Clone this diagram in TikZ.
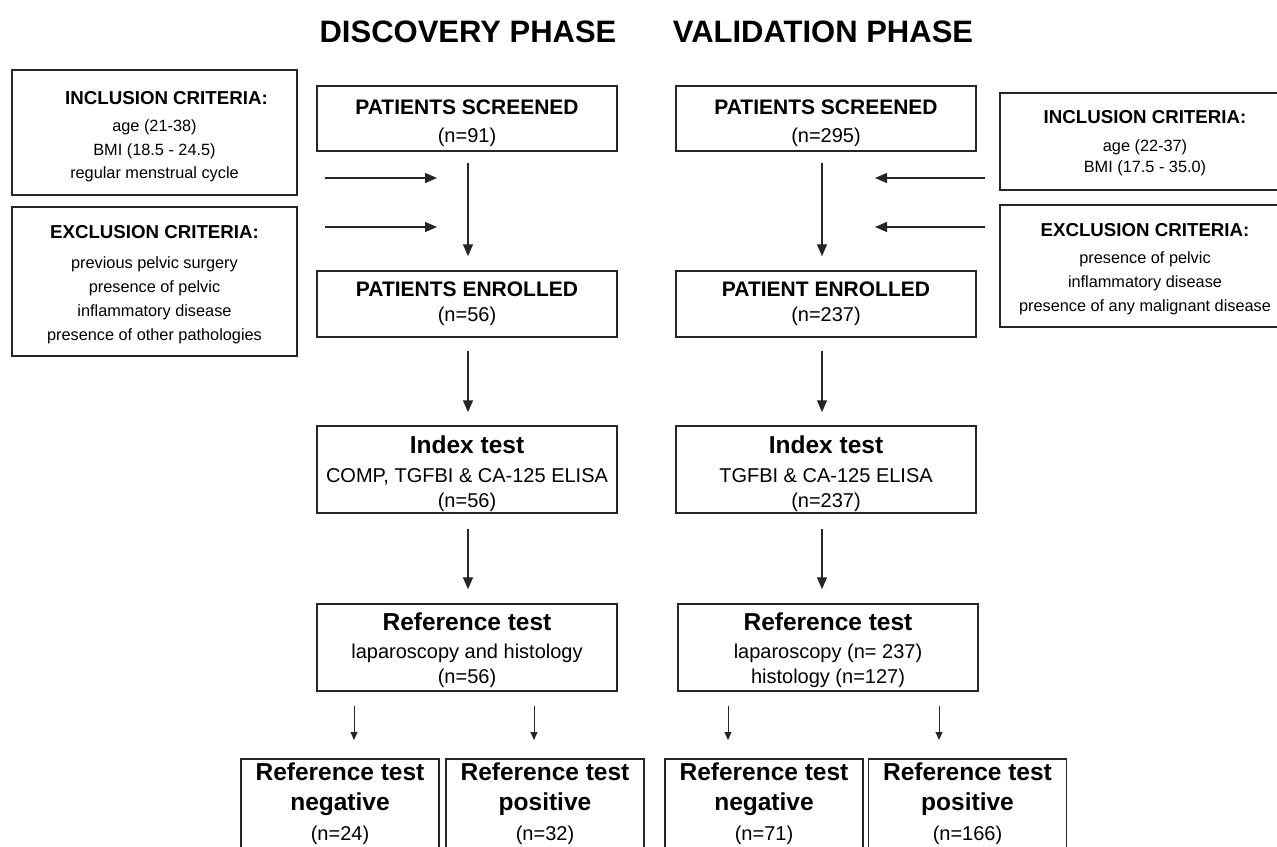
\documentclass[tikz,border=0pt]{standalone}
\usepackage{fontspec}
\setmainfont{Liberation Sans}
\usetikzlibrary{arrows.meta}
\newcommand\ttlfont{\bfseries\fontsize{31}{36}\selectfont}
\newcommand\crfont{\bfseries\fontsize{18.7}{22}\selectfont}
\newcommand\scrfont{\bfseries\fontsize{21}{25}\selectfont}
\newcommand\hdfont{\bfseries\fontsize{24.5}{28}\selectfont}
\newcommand\liftby[1]{\rule{0pt}{#1}}
\tikzset{
  box/.style={draw=black!85, line width=1.5pt, align=center, inner sep=0pt, text=black},
  mbox/.style={box, minimum width=300pt, font=\fontsize{20}{25}\selectfont},
  sbox/.style={box, minimum width=285pt, font=\fontsize{16.3}{23.5}\selectfont},
  rbox/.style={box, minimum width=290pt, font=\fontsize{16.3}{23.5}\selectfont},
  bbox/.style={box, minimum width=198pt, minimum height=90pt, anchor=north, font=\fontsize{20}{30}\selectfont},
  arr/.style={line width=1.4pt, draw=black!85, -{Triangle[length=12pt,width=10pt]}},
  sarr/.style={line width=1pt, draw=black!85, -{Triangle[length=8pt,width=7pt]}},
  ttl/.style={font=\ttlfont, text=black}
}
\begin{document}
\begin{tikzpicture}[x=1pt,y=-1pt]
\useasboundingbox (0,0) rectangle (1277,846);
\clip (0,0) rectangle (1277,846);

% titles
\node[ttl] (t1) at (468,32) {DISCOVERY PHASE};
\node[ttl] (t2) at (823,32) {VALIDATION PHASE};

% left criteria
\node[sbox, minimum height=125pt] (linc) at (154.5,132.5)
  {\liftby{21.5pt}\hspace*{24pt}{\crfont INCLUSION CRITERIA:}\\[3.5pt]
   age (21-38)\\ BMI (18.5 - 24.5)\\ regular menstrual cycle};
\node[sbox, minimum height=149pt, font=\fontsize{16.3}{24}\selectfont] (lexc) at (154.5,281.5)
  {\liftby{19.5pt}{\crfont EXCLUSION CRITERIA:}\\[6pt]
   previous pelvic surgery\\ presence of pelvic\\ inflammatory disease\\ presence of other pathologies};

% right criteria
\node[rbox, minimum height=97pt, font=\fontsize{16.3}{21.5}\selectfont] (rinc) at (1145,141.5)
  {\liftby{16pt}{\crfont INCLUSION CRITERIA:}\\[6.5pt]
   age (22-37)\\ BMI (17.5 - 35.0)};
\node[rbox, minimum height=122pt, font=\fontsize{16.3}{24}\selectfont] (rexc) at (1145,266)
  {\liftby{20pt}{\crfont EXCLUSION CRITERIA:}\\[3pt]
   presence of pelvic\\ inflammatory disease\\ presence of any malignant disease};

% discovery column
\node[mbox, minimum height=65pt, font=\fontsize{20}{28}\selectfont] (lscr) at (467,118.5)
  {\liftby{24pt}{\scrfont PATIENTS SCREENED}\\ (n=91)};
\node[mbox, minimum height=66pt, font=\fontsize{20}{25}\selectfont] (lenr) at (467,304)
  {{\scrfont PATIENTS ENROLLED}\\ (n=56)};
\node[mbox, minimum height=87pt] (lidx) at (467,469.5)
  {\liftby{26pt}{\hdfont Index test}\\[4pt] COMP, TGFBI \& CA-125 ELISA\\ (n=56)};
\node[mbox, minimum height=87pt] (lref) at (467,647.5)
  {\liftby{24pt}{\hdfont Reference test}\\[3pt] laparoscopy and histology\\ (n=56)};
\node[bbox] (lneg) at (340,758)
  {{\hdfont Reference test}\\ {\hdfont negative}\\ (n=24)};
\node[bbox] (lpos) at (545,758)
  {{\hdfont Reference test}\\ {\hdfont positive}\\ (n=32)};

% validation column
\node[mbox, minimum height=65pt, font=\fontsize{20}{28}\selectfont] (rscr) at (826,118.5)
  {\liftby{24pt}{\scrfont PATIENTS SCREENED}\\ (n=295)};
\node[mbox, minimum height=66pt, font=\fontsize{20}{25}\selectfont] (renr) at (826,304)
  {{\scrfont PATIENT ENROLLED}\\ (n=237)};
\node[mbox, minimum height=87pt] (ridx) at (826,469.5)
  {\liftby{26pt}{\hdfont Index test}\\[4pt] TGFBI \& CA-125 ELISA\\ (n=237)};
\node[mbox, minimum height=87pt] (rref) at (828,647.5)
  {\liftby{24pt}{\hdfont Reference test}\\[3pt] laparoscopy (n= 237)\\ histology (n=127)};
\node[bbox] (rneg) at (764,758)
  {{\hdfont Reference test}\\ {\hdfont negative}\\ (n=71)};
\node[bbox] (rpos) at (967.5,758)
  {{\hdfont Reference test}\\ {\hdfont positive}\\ (n=166)};

% vertical arrows
\draw[arr, shorten <=11pt, shorten >=14pt] ([xshift=1pt]lscr.south) -- ([xshift=1pt]lenr.north);
\draw[arr, shorten <=13pt, shorten >=13pt] ([xshift=1pt]lenr.south) -- ([xshift=1pt]lidx.north);
\draw[arr, shorten <=15pt, shorten >=14pt] ([xshift=1pt]lidx.south) -- ([xshift=1pt]lref.north);
\draw[arr, shorten <=11pt, shorten >=14pt] ([xshift=-4pt]rscr.south) -- ([xshift=-4pt]renr.north);
\draw[arr, shorten <=13pt, shorten >=13pt] ([xshift=-4pt]renr.south) -- ([xshift=-4pt]ridx.north);
\draw[arr, shorten <=15pt, shorten >=14pt] ([xshift=-4pt]ridx.south) -- ([xshift=-6pt]rref.north);

% split arrows
\draw[sarr, shorten <=14pt, shorten >=18pt] ([xshift=14pt]lneg.north |- lref.south) -- ([xshift=14pt]lneg.north);
\draw[sarr, shorten <=14pt, shorten >=18pt] ([xshift=-11pt]lpos.north |- lref.south) -- ([xshift=-11pt]lpos.north);
\draw[sarr, shorten <=14pt, shorten >=18pt] ([xshift=-36pt]rneg.north |- rref.south) -- ([xshift=-36pt]rneg.north);
\draw[sarr, shorten <=14pt, shorten >=18pt] ([xshift=-28.5pt]rpos.north |- rref.south) -- ([xshift=-28.5pt]rpos.north);

% criteria arrows
\coordinate (a1) at (437,178);
\coordinate (a2) at (437,227);
\coordinate (b1) at (875,178);
\coordinate (b2) at (875,227);
\draw[arr] ([xshift=27pt]linc.east |- a1) -- (a1);
\draw[arr] ([xshift=27pt]lexc.east |- a2) -- (a2);
\draw[arr] ([xshift=-14pt]rinc.west |- b1) -- (b1);
\draw[arr] ([xshift=-14pt]rexc.west |- b2) -- (b2);
\end{tikzpicture}
\end{document}
